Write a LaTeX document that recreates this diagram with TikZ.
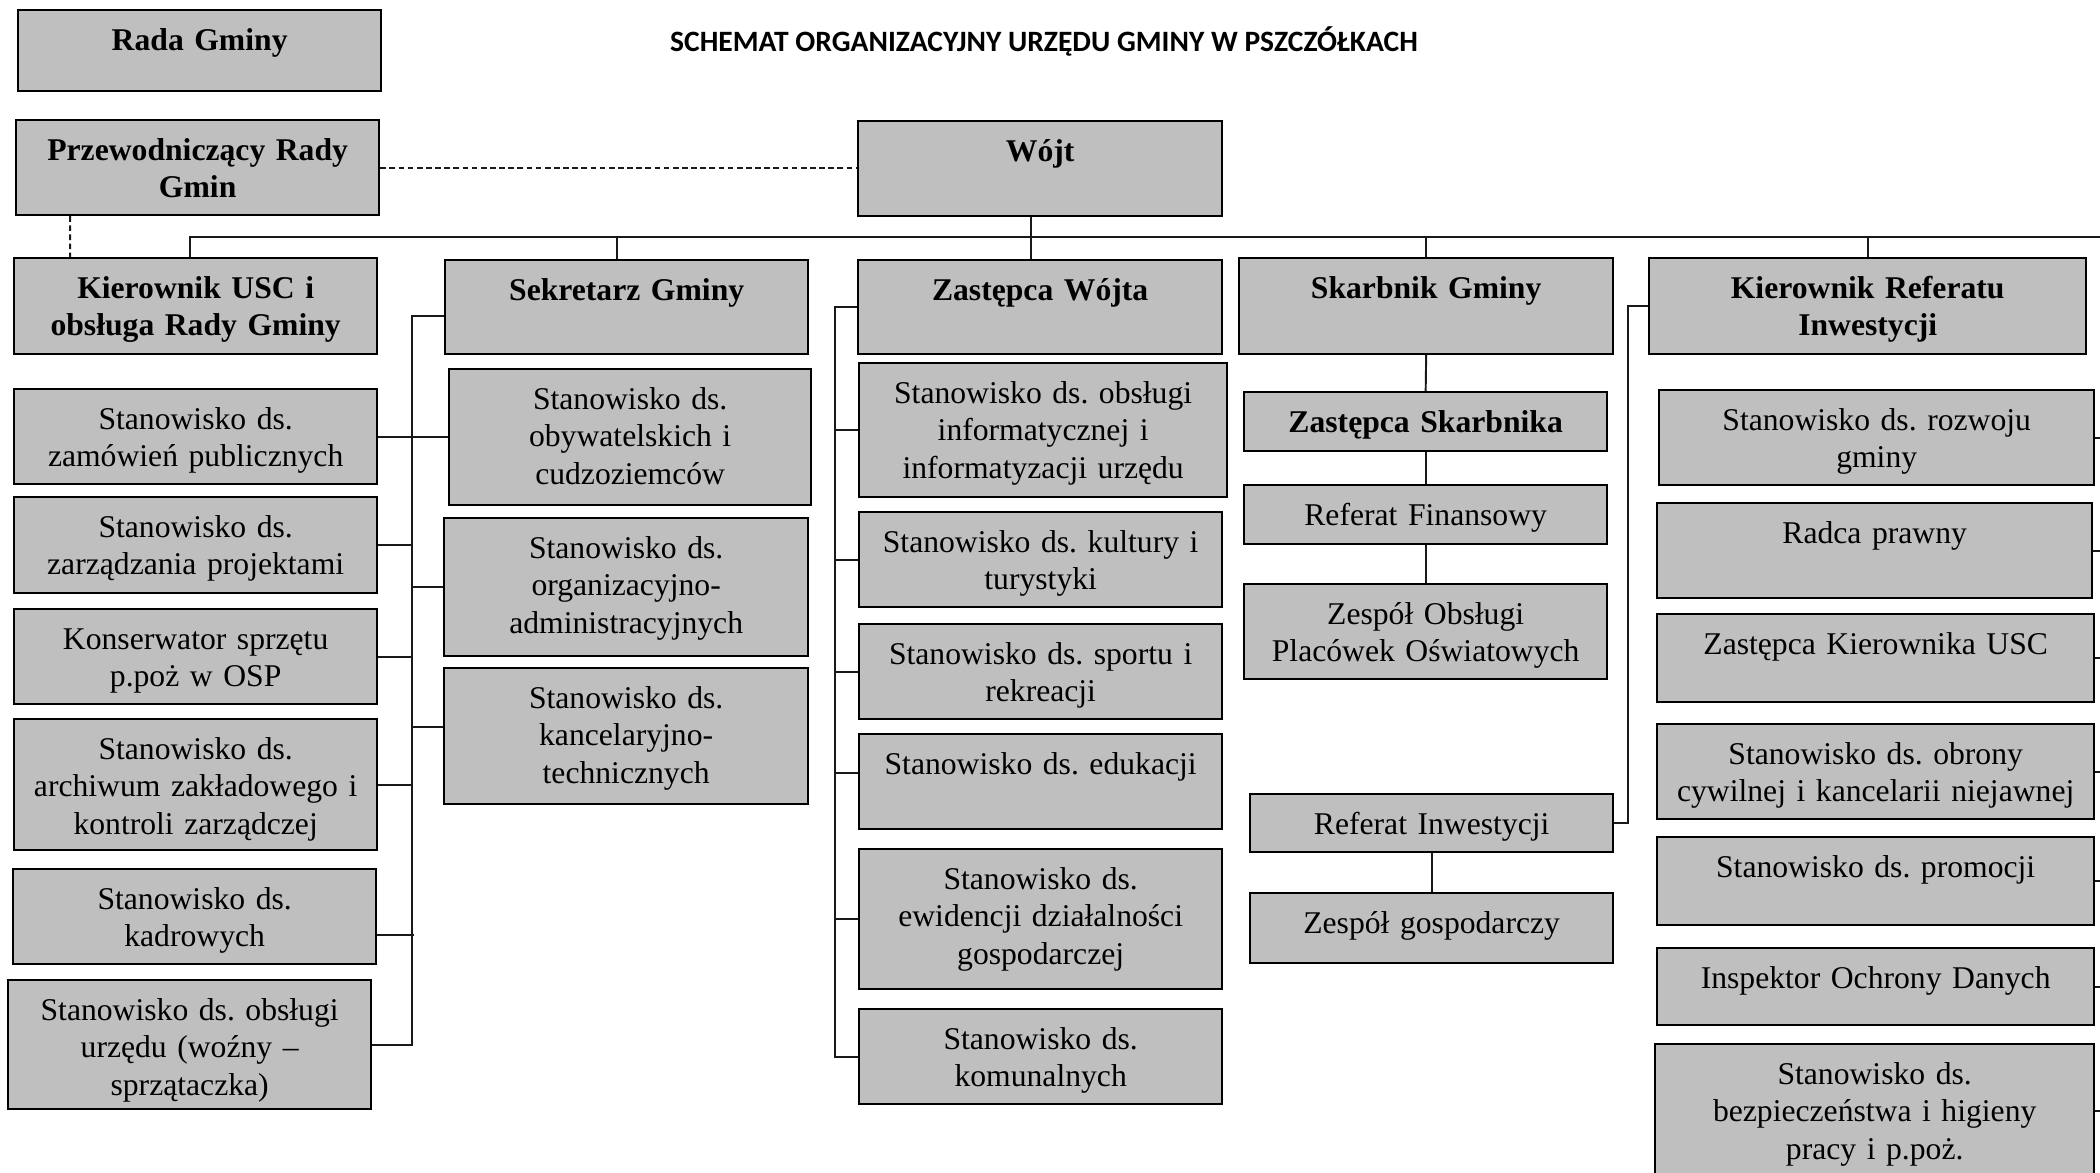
\documentclass[tikz,border=0pt]{standalone}
\usepackage{fontspec}
\setmainfont{Liberation Serif}
\newfontfamily\titlefont{Carlito}
\definecolor{box gray}{RGB}{191,191,191}
\frenchspacing

\begin{document}
\begin{tikzpicture}[x=0.01cm, y=-0.01cm,
    box/.style={draw, line width=0.6pt, fill=box gray, anchor=north west,
      inner xsep=3pt, inner ysep=0pt, align=center, text height=11.5pt,
      font=\fontsize{9}{10.6}\selectfont},
    head/.style={box, font=\fontsize{9}{10.6}\selectfont\bfseries},
    sz/.style 2 args={minimum width=#1cm, text width=#1cm-6pt, text depth=#2cm-11.5pt},
    link/.style={draw=black!90, line width=0.55pt},
    dashlink/.style={link, dash pattern=on 1.6pt off 1pt}]
  \useasboundingbox (0,0) rectangle (2100,1173);
  \clip (0,0) rectangle (2100,1173);

  % title and the top
  \node[font=\titlefont\bfseries\fontsize{8.4}{10}\selectfont] (title) at (1044,41)
    {SCHEMAT ORGANIZACYJNY URZĘDU GMINY W PSZCZÓŁKACH};
  \node[head, sz={3.63}{0.81}] (rada) at (17,9) {Rada Gminy};
  \node[head, sz={3.63}{0.95}] (przew) at (15,119) {Przewodniczący Rady\\Gmin};
  \node[head, sz={3.64}{0.95}] (wojt) at (857,120) {Wójt};

  % second row
  \node[head, sz={3.63}{0.96}] (kier) at (13,257) {Kierownik USC i\\obsługa Rady Gminy};
  \node[head, sz={3.63}{0.94}] (sekr) at (444,259) {Sekretarz Gminy};
  \node[head, sz={3.64}{0.94}] (zast) at (857,259) {Zastępca Wójta};
  \node[head, sz={3.74}{0.96}] (skarb) at (1238,257) {Skarbnik Gminy};
  \node[head, sz={4.37}{0.96}] (kref) at (1648,257) {Kierownik Referatu\\Inwestycji};

  % left column
  \node[box, sz={3.63}{0.95}] (zam) at (13,388) {Stanowisko ds.\\zamówień publicznych};
  \node[box, sz={3.63}{0.96}] (proj) at (13,496) {Stanowisko ds.\\zarządzania projektami};
  \node[box, sz={3.63}{0.95}] (kons) at (13,608) {Konserwator sprzętu\\p.poż w OSP};
  \node[box, sz={3.63}{1.31}] (arch) at (13,718) {Stanowisko ds.\\archiwum zakładowego i\\kontroli zarządczej};
  \node[box, sz={3.63}{0.95}] (kadr) at (12,868) {Stanowisko ds.\\kadrowych};
  \node[box, sz={3.63}{1.29}] (obsl) at (7,979) {Stanowisko ds. obsługi\\urzędu (woźny --\\sprzątaczka)};

  % sekretarz column
  \node[box, sz={3.62}{1.36}] (obyw) at (448,368) {Stanowisko ds.\\obywatelskich i\\cudzoziemców};
  \node[box, sz={3.64}{1.38}] (org) at (443,517) {Stanowisko ds.\\organizacyjno-\\administracyjnych};
  \node[box, sz={3.64}{1.36}] (kanc) at (443,667) {Stanowisko ds.\\kancelaryjno-\\technicznych};

  % zastepca column
  \node[box, sz={3.68}{1.34}] (info) at (858,362) {Stanowisko ds. obsługi\\informatycznej i\\informatyzacji urzędu};
  \node[box, sz={3.63}{0.95}] (kult) at (858,511) {Stanowisko ds. kultury i\\turystyki};
  \node[box, sz={3.63}{0.95}] (sport) at (858,623) {Stanowisko ds. sportu i\\rekreacji};
  \node[box, sz={3.63}{0.95}] (eduk) at (858,733) {Stanowisko ds. edukacji};
  \node[box, sz={3.63}{1.40}] (ewid) at (858,848) {Stanowisko ds.\\ewidencji działalności\\gospodarczej};
  \node[box, sz={3.63}{0.95}] (kom) at (858,1008) {Stanowisko ds.\\komunalnych};

  % skarbnik column
  \node[head, sz={3.63}{0.59}] (zskarb) at (1243,391) {Zastępca Skarbnika};
  \node[box, sz={3.63}{0.59}] (reffin) at (1243,484) {Referat Finansowy};
  \node[box, sz={3.63}{0.95}] (zespob) at (1243,583) {Zespół Obsługi\\Placówek Oświatowych};
  \node[box, sz={3.63}{0.58}] (refinw) at (1249,793) {Referat Inwestycji};
  \node[box, sz={3.63}{0.70}] (zespg) at (1249,892) {Zespół gospodarczy};

  % right column
  \node[box, sz={4.35}{0.95}] (rozw) at (1658,389) {Stanowisko ds. rozwoju\\gminy};
  \node[box, sz={4.35}{0.95}] (radca) at (1656,502) {Radca prawny};
  \node[box, sz={4.37}{0.88}] (zkusc) at (1656,613) {Zastępca Kierownika USC};
  \node[box, sz={4.37}{0.95}] (obr) at (1656,723) {Stanowisko ds. obrony\\cywilnej i kancelarii niejawnej};
  \node[box, sz={4.37}{0.88}] (prom) at (1656,836) {Stanowisko ds. promocji};
  \node[box, sz={4.37}{0.77}] (insp) at (1656,947) {Inspektor Ochrony Danych};
  \node[box, sz={4.39}{1.33}] (bhp) at (1654,1043) {Stanowisko ds.\\bezpieczeństwa i higieny\\pracy i p.poż.};

  % dashed links
  \draw[dashlink] (przew.east) -- (przew.east -| wojt.west);
  \draw[dashlink] ([xshift=0.55cm]przew.south west) -- ([xshift=0.57cm]kier.north west);

  % main bus
  \coordinate (bus end) at (2100,237);
  \draw[link] ([xshift=1.77cm]kier.north west) |- (bus end);
  \draw[link] ([xshift=-0.09cm]wojt.south) -- ([xshift=-0.09cm]zast.north);
  \draw[link] ([xshift=-0.1cm]sekr.north) -- ++(0,-22);
  \foreach \n in {skarb, kref}
    \draw[link] (\n.north) -- (\n.north |- bus end);

  % sekretarz bus
  \coordinate (sb) at (412,0);
  \draw[link] ([yshift=-0.09cm]sekr.west) -| (sb |- obsl.east) -- (obsl.east);
  \draw[link] (zam.east) -- (zam.east -| obyw.west);
  \foreach \n in {proj, kons, arch}
    \draw[link] (\n.east) -- (sb |- \n.east);
  \draw[link] ([yshift=-0.18cm]kadr.east) -- ++(37,0);
  \draw[link] (org.west) -- (sb |- org.west);
  \draw[link] ([yshift=0.09cm]kanc.west) -- ++(-31,0);

  % zastepca bus
  \coordinate (zb) at (835,0);
  \draw[link] (zast.west) -| (zb |- kom.west) -- (kom.west);
  \foreach \n in {info, kult, sport, ewid}
    \draw[link] (\n.west) -- (zb |- \n.west);
  \draw[link] ([yshift=0.09cm]eduk.west) -- ++(-23,0);

  % skarbnik chain
  \draw[link] (skarb.south) -- (zskarb.north);
  \draw[link] (zskarb.south) -- (reffin.north);
  \draw[link] (reffin.south) -- (zespob.north);
  \draw[link] (refinw.south) -- (zespg.north);

  % kierownik referatu
  \coordinate (kb) at (1628,0);
  \draw[link] (kref.west) -| (kb |- refinw.east) -- (refinw.east);
  \foreach \n in {rozw, radca, zkusc, obr, prom, insp, bhp}
    \draw[link] (\n.east) -- ++(20,0);
\end{tikzpicture}
\end{document}
